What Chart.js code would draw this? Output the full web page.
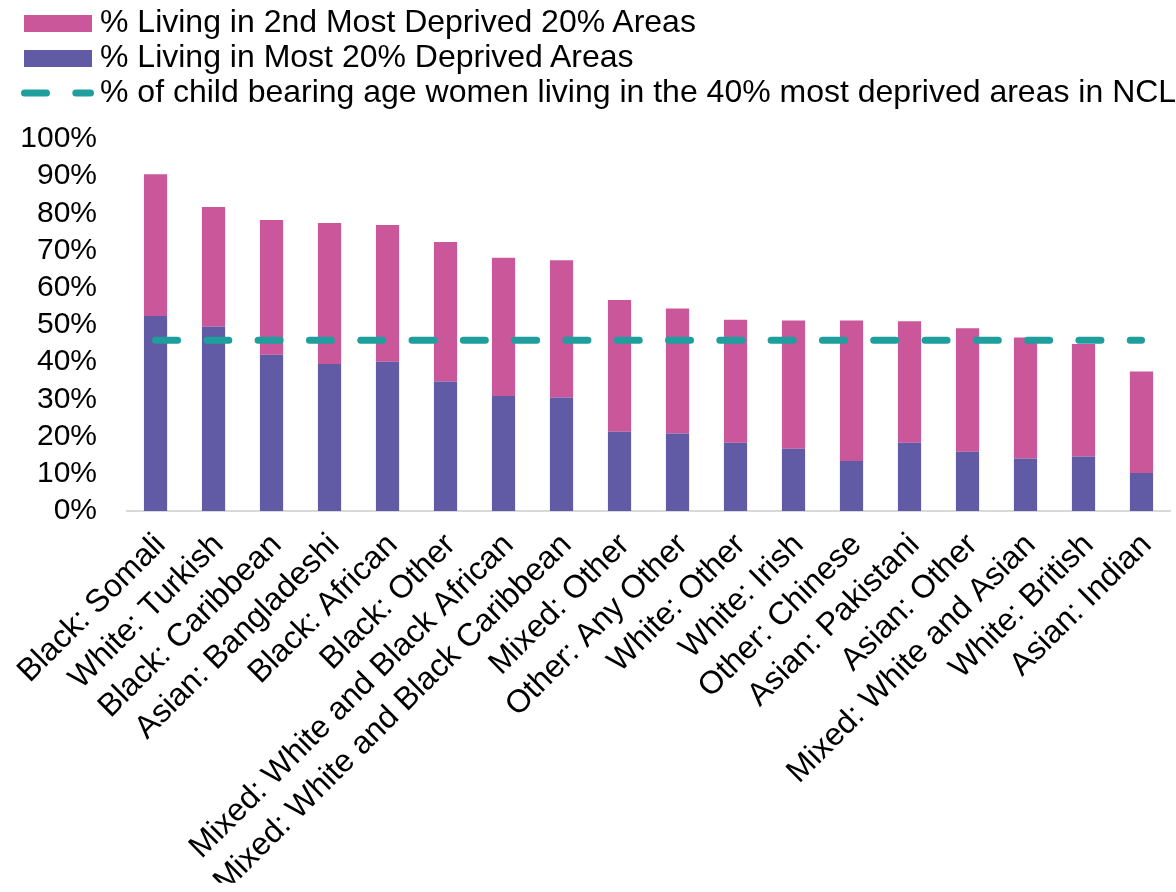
<!DOCTYPE html>
<html>
<head>
<meta charset="utf-8">
<script src="https://cdn.jsdelivr.net/npm/chart.js@4"></script>
<style>
  html, body { margin: 0; padding: 0; background: #fff; overflow: hidden; }
  #frame { position: relative; width: 1176px; height: 892px; overflow: hidden; }
  #chartBox { position: absolute; left: 0; top: 0; width: 1176px; height: 892px; }
  .lg { position: absolute; font-family: 'Liberation Sans', Arial, sans-serif; font-size: 32px; line-height: 35px; color: #000; white-space: nowrap; }
  .sw { position: absolute; }
</style>
</head>
<body>
<div id="frame">
  <div id="chartBox"><canvas id="c"></canvas></div>
  <div class="sw" id="sw1" style="left:24px;top:15px;width:68px;height:17px;"></div>
  <div class="lg" id="lg1" style="left:100px;top:4px;"></div>
  <div class="sw" id="sw2" style="left:24px;top:50px;width:68px;height:17px;"></div>
  <div class="lg" id="lg2" style="left:100px;top:39px;"></div>
  <svg class="sw" style="left:14px;top:84px;" width="90" height="18">
    <line id="sw3" x1="10.5" y1="9" x2="76.5" y2="9" stroke-width="7" stroke-linecap="round" stroke-dasharray="22 29.3"></line>
  </svg>
  <div class="lg" id="lg3" style="left:100px;top:74px;"></div>
</div>
<script>
const categories = [
  'Black: Somali', 'White: Turkish', 'Black: Caribbean', 'Asian: Bangladeshi',
  'Black: African', 'Black: Other', 'Mixed: White and Black African',
  'Mixed: White and Black Caribbean', 'Mixed: Other', 'Other: Any Other',
  'White: Other', 'White: Irish', 'Other: Chinese', 'Asian: Pakistani',
  'Asian: Other', 'Mixed: White and Asian', 'White: British', 'Asian: Indian'
];
// % living in the most deprived 20% areas
const mostDeprived = [52.4, 49.6, 42.0, 39.5, 40.1, 34.8, 30.9, 30.5, 21.3, 20.8, 18.3, 16.7, 13.4, 18.3, 15.9, 14.1, 14.6, 10.2];
// % living in the 2nd most deprived 20% areas
const secondDeprived = [38.1, 32.1, 36.2, 37.9, 36.8, 37.5, 37.2, 36.9, 35.4, 33.6, 33.1, 34.5, 37.8, 32.7, 33.2, 32.5, 30.3, 27.3];
// NCL reference: child bearing age women in 40% most deprived areas
const nclReference = [45.9, 45.9, 45.9, 45.9, 45.9, 45.9, 45.9, 45.9, 45.9, 45.9, 45.9, 45.9, 45.9, 45.9, 45.9, 45.9, 45.9, 45.9];
const yTicks = [0, 10, 20, 30, 40, 50, 60, 70, 80, 90, 100];

const seriesNames = [
  '% Living in 2nd Most Deprived 20% Areas',
  '% Living in Most 20% Deprived Areas',
  '% of child bearing age women living in the 40% most deprived areas in NCL'
];
const PINK = '#C9579A', PURPLE = '#605BA4', TEAL = '#1E9E9D';

document.getElementById('lg1').textContent = seriesNames[0];
document.getElementById('lg2').textContent = seriesNames[1];
document.getElementById('lg3').textContent = seriesNames[2];
document.getElementById('sw1').style.background = PINK;
document.getElementById('sw2').style.background = PURPLE;
document.getElementById('sw3').setAttribute('stroke', TEAL);

const FONT = "'Liberation Sans', Arial, sans-serif";
const Y_PAD = 29.5;

new Chart(document.getElementById('c'), {
  data: {
    labels: categories,
    datasets: [
      {
        type: 'line', label: seriesNames[2], data: nclReference, order: 0, stack: 'ref',
        borderColor: TEAL, borderWidth: 7, borderDash: [22, 29.3], borderCapStyle: 'round',
        pointRadius: 0, fill: false, tension: 0
      },
      {
        type: 'bar', label: seriesNames[1], data: mostDeprived, order: 1, stack: 'bars',
        backgroundColor: PURPLE, borderWidth: 0, barPercentage: 0.4, categoryPercentage: 1
      },
      {
        type: 'bar', label: seriesNames[0], data: secondDeprived, order: 1, stack: 'bars',
        backgroundColor: PINK, borderWidth: 0, barPercentage: 0.4, categoryPercentage: 1
      }
    ]
  },
  options: {
    responsive: true, maintainAspectRatio: false, animation: false,
    layout: { autoPadding: false, padding: { left: 20.3, right: 5.5, top: 139, bottom: 9.2 } },
    plugins: { legend: { display: false }, tooltip: { enabled: false } },
    scales: {
      x: {
        stacked: true,
        afterFit: (s) => { s.paddingLeft = 0; s.paddingRight = 0; },
        grid: { display: false, drawTicks: false },
        border: { display: true, color: '#D9D9D9', width: 2 },
        ticks: {
          autoSkip: false, minRotation: 45, maxRotation: 45, padding: 15.5, labelOffset: 5,
          color: '#000', font: { family: FONT, size: 32 }
        }
      },
      y: {
        stacked: true, min: 0, max: 100,
        afterBuildTicks: (axis) => { axis.ticks = yTicks.map(v => ({ value: v })); },
        afterFit: (s) => {
          const w = s._labelSizes ? s._labelSizes.widest.width : 76.7;
          s.width = w + Y_PAD;
        },
        grid: { display: false, drawTicks: false },
        border: { display: false },
        ticks: {
          autoSkip: false, padding: Y_PAD, color: '#000', font: { family: FONT, size: 30 },
          callback: (v) => v + '%'
        }
      }
    }
  }
});
</script>
</body>
</html>
